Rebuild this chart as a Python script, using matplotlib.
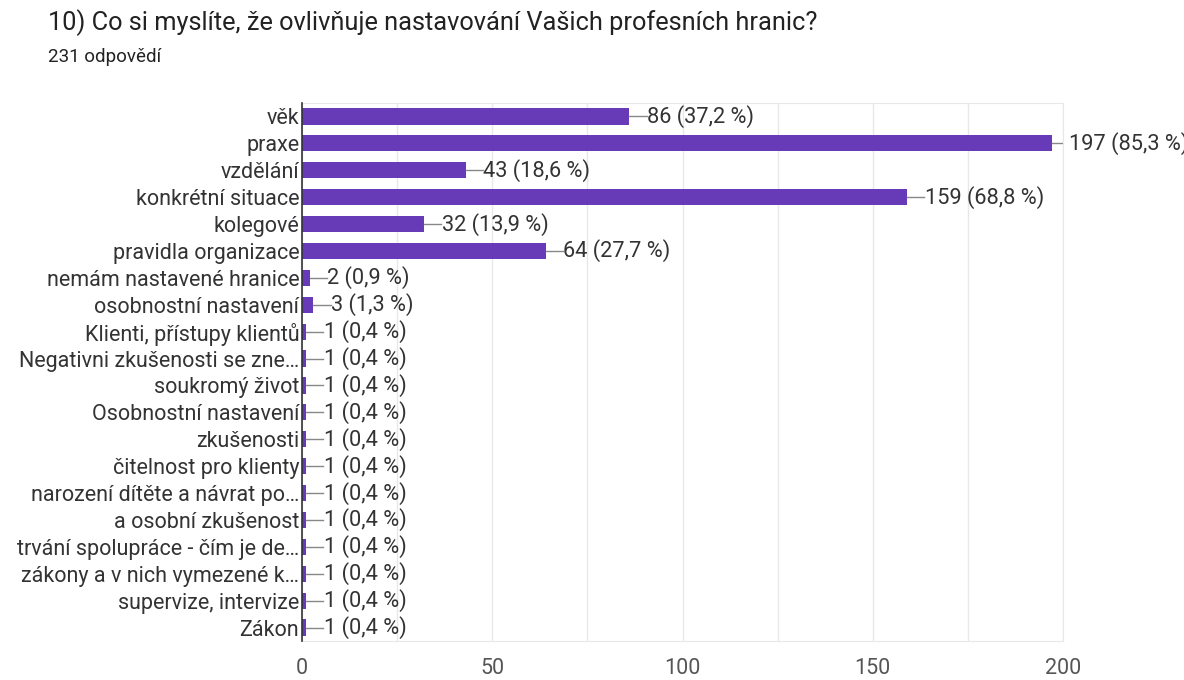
import matplotlib.pyplot as plt
import numpy as np

plt.rcParams['font.family'] = ['Roboto', 'DejaVu Sans']

title = '10) Co si myslíte, že ovlivňuje nastavování Vašich profesních hranic?'
subtitle = '231 odpovědí'
labels = ['věk', 'praxe', 'vzdělání', 'konkrétní situace', 'kolegové',
          'pravidla organizace', 'nemám nastavené hranice', 'osobnostní nastavení',
          'Klienti, přístupy klientů', 'Negativni zkušenosti se zne…',
          'soukromý život', 'Osobnostní nastavení', 'zkušenosti',
          'čitelnost pro klienty', 'narození dítěte a návrat po…',
          'a osobní zkušenost', 'trvání spolupráce - čím je de…',
          'zákony a v nich vymezené k…', 'supervize, intervize', 'Zákon']
counts = [86, 197, 43, 159, 32, 64, 2, 3, 1, 1, 1, 1, 1, 1, 1, 1, 1, 1, 1, 1]
pcts = ['37,2', '85,3', '18,6', '68,8', '13,9', '27,7', '0,9', '1,3',
        '0,4', '0,4', '0,4', '0,4', '0,4', '0,4', '0,4', '0,4', '0,4', '0,4', '0,4', '0,4']

fig = plt.figure(figsize=(11.84, 6.8), dpi=100)
ax = fig.add_axes([302/1184, 1-641/680, 761/1184, 538/680])

y = np.arange(len(labels))
ax.barh(y, counts, height=0.6, color='#673ab7', zorder=3)
for i, (c, p) in enumerate(zip(counts, pcts)):
    ax.plot([c, c + 4.6], [i, i], color='#888888', lw=1, zorder=3)
    ax.text(c + 4.7, i, f'{c} ({p} %)', va='center', ha='left',
            fontsize=15.7, color='#333333', clip_on=False)

ax.set_ylim(len(labels) - 0.5, -0.5)
ax.set_xlim(0, 200)
ax.set_yticks(y)
ax.set_yticklabels(labels, fontsize=15.5, color='#333333')
ax.set_xticks([0, 50, 100, 150, 200])
ax.set_xticks([25, 75, 125, 175], minor=True)
ax.tick_params(axis='x', which='both', length=0, labelsize=15.5, labelcolor='#555555', pad=12)
ax.tick_params(axis='y', length=0, pad=2)
ax.grid(axis='x', which='both', color='#e8e8e8', lw=1, zorder=0)
for s in ['top', 'right', 'bottom']:
    ax.spines[s].set_color('#e8e8e8')
ax.spines['left'].set_color('#333333')
ax.spines['left'].set_linewidth(1.2)
ax.spines['left'].set_zorder(4)

fig.text(48/1184, 1-23/680, title, fontsize=18.3, color='#222222', va='center')
fig.text(48/1184, 1-57/680, subtitle, fontsize=13.5, color='#222222', va='center')

fig.savefig('out.png', dpi=100)
